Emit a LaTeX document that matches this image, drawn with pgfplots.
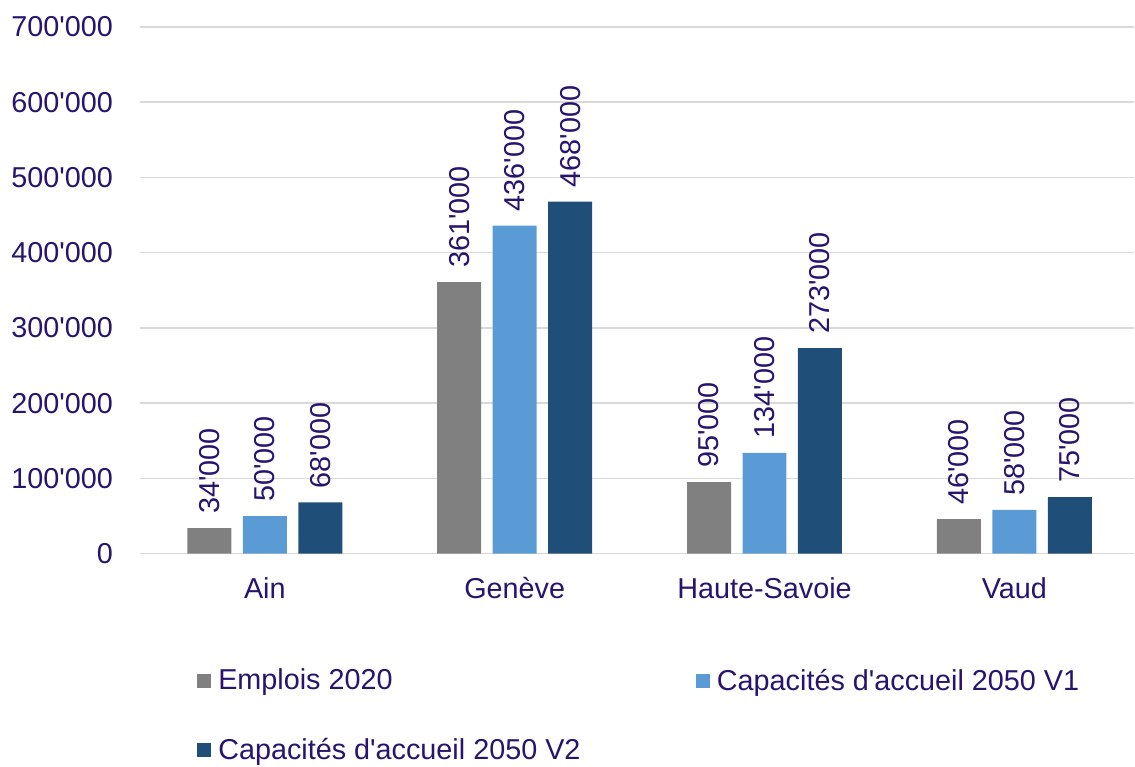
\documentclass[border=0pt]{standalone}
\usepackage{fontspec}
\setmainfont{Liberation Sans}[Ligatures=TeXOff]
\usepackage{pgfplots}
\pgfplotsset{compat=1.18}
\definecolor{txt}{RGB}{40,20,110}
\definecolor{cgray}{RGB}{128,128,128}
\definecolor{clight}{RGB}{91,155,213}
\definecolor{cdark}{RGB}{31,78,121}
\definecolor{gridc}{RGB}{217,217,217}
\newcommand{\lf}{\fontsize{14.4}{17}\selectfont}
\begin{document}
\begin{tikzpicture}
\begin{axis}[
  scale only axis, width=497.5pt, height=263.5pt,
  xmin=-0.5, xmax=3.48, ymin=0, ymax=700000,
  ybar=5.75pt, bar width=22pt,
  axis line style={draw=none},
  tick style={draw=none}, major tick length=0pt,
  ymajorgrids, grid style={gridc, line width=0.75pt},
  xtick={0,1,2,3}, xticklabels={Ain, Genève, Haute-Savoie, Vaud},
  ytick={0,100000,200000,300000,400000,500000,600000,700000},
  yticklabels={0,100'000,200'000,300'000,400'000,500'000,600'000,700'000},
  scaled y ticks=false,
  every tick label/.append style={font=\lf, text=txt},
  xticklabel style={text height=11pt, text depth=3pt, yshift=-8pt},
  yticklabel style={xshift=-10pt},
  point meta=explicit symbolic,
  nodes near coords,
  nodes near coords style={rotate=90, anchor=west, inner xsep=7pt, font=\lf, text=txt},
  legend style={at={(0.0573,-0.2106)}, anchor=north west, draw=none, fill=none,
    legend columns=2, font=\lf, text=txt, inner sep=0pt,
    /tikz/every even column/.append style={column sep=0pt},
    /tikz/row sep=18.5pt},
  legend cell align=left,
  legend image code/.code={\fill[#1] (0pt,-3.5pt) rectangle (7pt,3.5pt); \path (8.5pt,0pt);},
]
\addplot[fill=cgray, draw=none] coordinates {(0,34000) [34'000] (1,361000) [361'000] (2,95000) [95'000] (3,46000) [46'000]};
\addplot[fill=clight, draw=none] coordinates {(0,50000) [50'000] (1,436000) [436'000] (2,134000) [134'000] (3,58000) [58'000]};
\addplot[fill=cdark, draw=none] coordinates {(0,68000) [68'000] (1,468000) [468'000] (2,273000) [273'000] (3,75000) [75'000]};
\legend{\makebox[237pt][l]{Emplois 2020}, Capacités d'accueil 2050 V1, \makebox[237pt][l]{Capacités d'accueil 2050 V2}}
\end{axis}
\path (current axis.north west) ++(0,13.5pt);
\path (current axis.south west) ++(-70pt,-105pt);
\end{tikzpicture}
\end{document}
